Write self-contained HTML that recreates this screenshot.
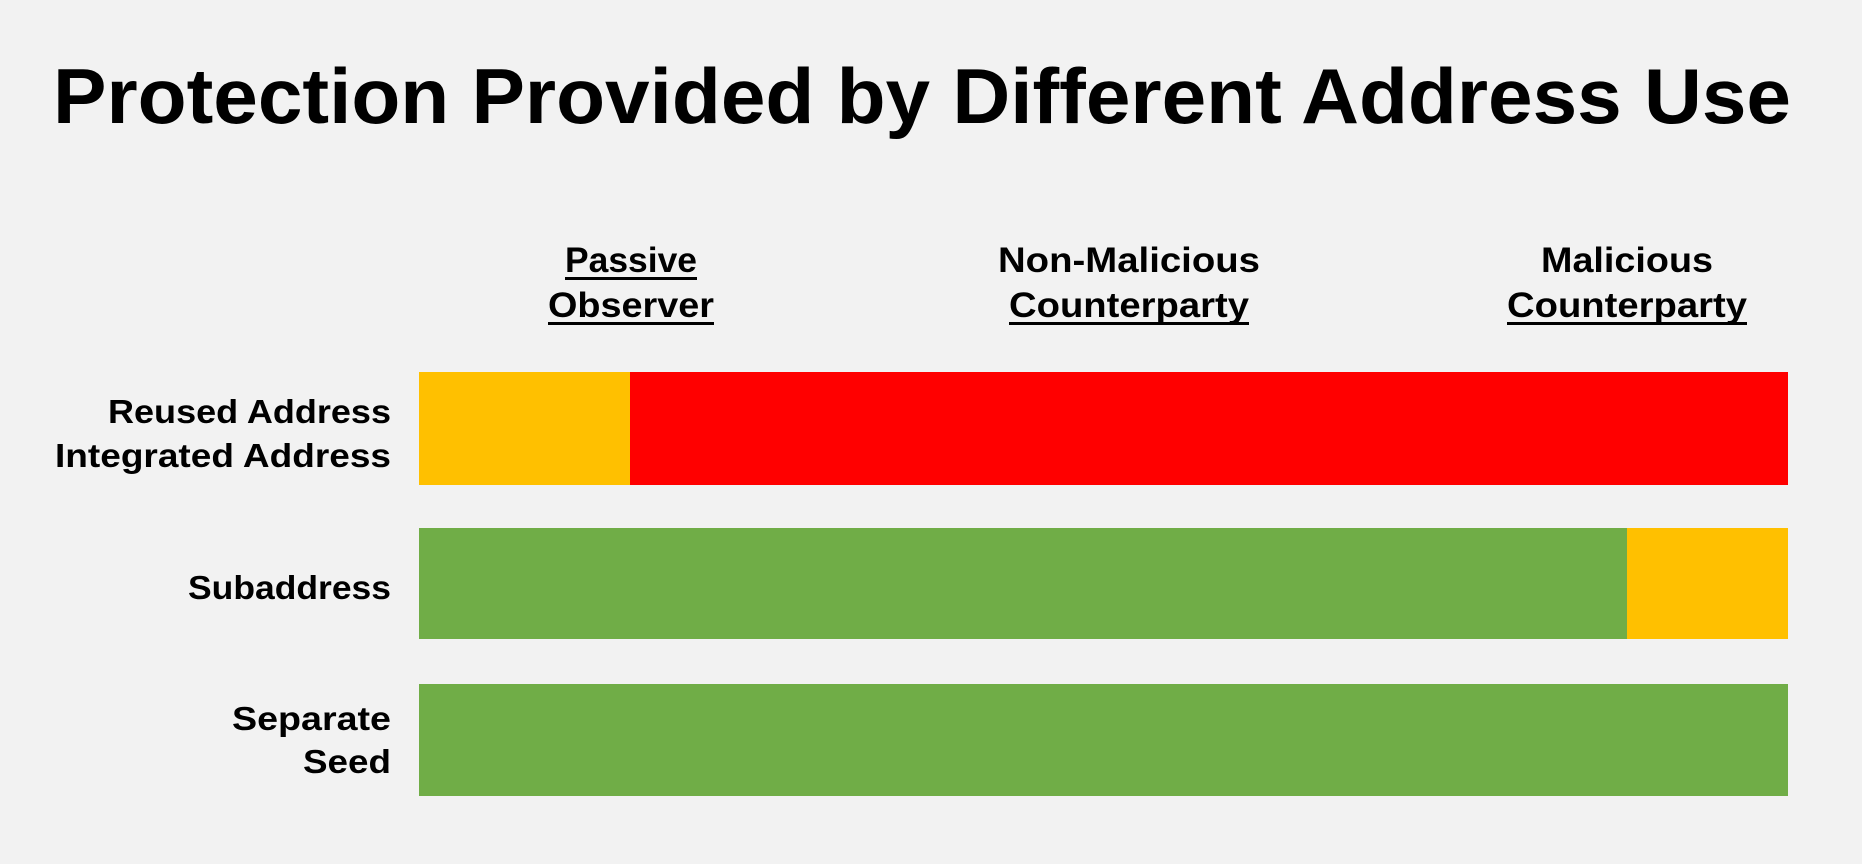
<!DOCTYPE html>
<html><head><meta charset="utf-8"><style>html,body{margin:0;padding:0;background:#f2f2f2}svg{display:block}</style></head>
<body>
<svg width="1862" height="864" xmlns="http://www.w3.org/2000/svg" font-family="Liberation Sans, sans-serif" font-weight="bold" fill="#000">
<rect width="1862" height="864" fill="#f2f2f2"/>
<text x="53" y="123" font-size="78" textLength="1738" lengthAdjust="spacingAndGlyphs">Protection Provided by Different Address Use</text>

<g font-size="35" text-anchor="middle">
<text x="631" y="272" textLength="132" lengthAdjust="spacingAndGlyphs">Passive</text>
<rect x="565" y="277" width="132" height="3"/>
<text x="631" y="317" textLength="166" lengthAdjust="spacingAndGlyphs">Observer</text>
<rect x="548" y="322" width="166" height="3"/>

<text x="1129" y="272" textLength="262" lengthAdjust="spacingAndGlyphs">Non-Malicious</text>
<text x="1129" y="317" textLength="240" lengthAdjust="spacingAndGlyphs">Counterparty</text>
<rect x="1009" y="322" width="240" height="3"/>

<text x="1627" y="272" textLength="172" lengthAdjust="spacingAndGlyphs">Malicious</text>
<text x="1627" y="317" textLength="240" lengthAdjust="spacingAndGlyphs">Counterparty</text>
<rect x="1507" y="322" width="240" height="3"/>
</g>

<g font-size="33" text-anchor="end">
<text x="391" y="423" textLength="283" lengthAdjust="spacingAndGlyphs">Reused Address</text>
<text x="391" y="467" textLength="336" lengthAdjust="spacingAndGlyphs">Integrated Address</text>
<text x="391" y="599" textLength="203" lengthAdjust="spacingAndGlyphs">Subaddress</text>
<text x="391" y="730" textLength="159" lengthAdjust="spacingAndGlyphs">Separate</text>
<text x="391" y="773" textLength="88" lengthAdjust="spacingAndGlyphs">Seed</text>
</g>

<rect x="419" y="372" width="211" height="113" fill="#FFC000"/>
<rect x="630" y="372" width="1158" height="113" fill="#FF0000"/>
<rect x="419" y="528" width="1208" height="111" fill="#70AD47"/>
<rect x="1627" y="528" width="161" height="111" fill="#FFC000"/>
<rect x="419" y="684" width="1369" height="112" fill="#70AD47"/>
</svg>
</body></html>
